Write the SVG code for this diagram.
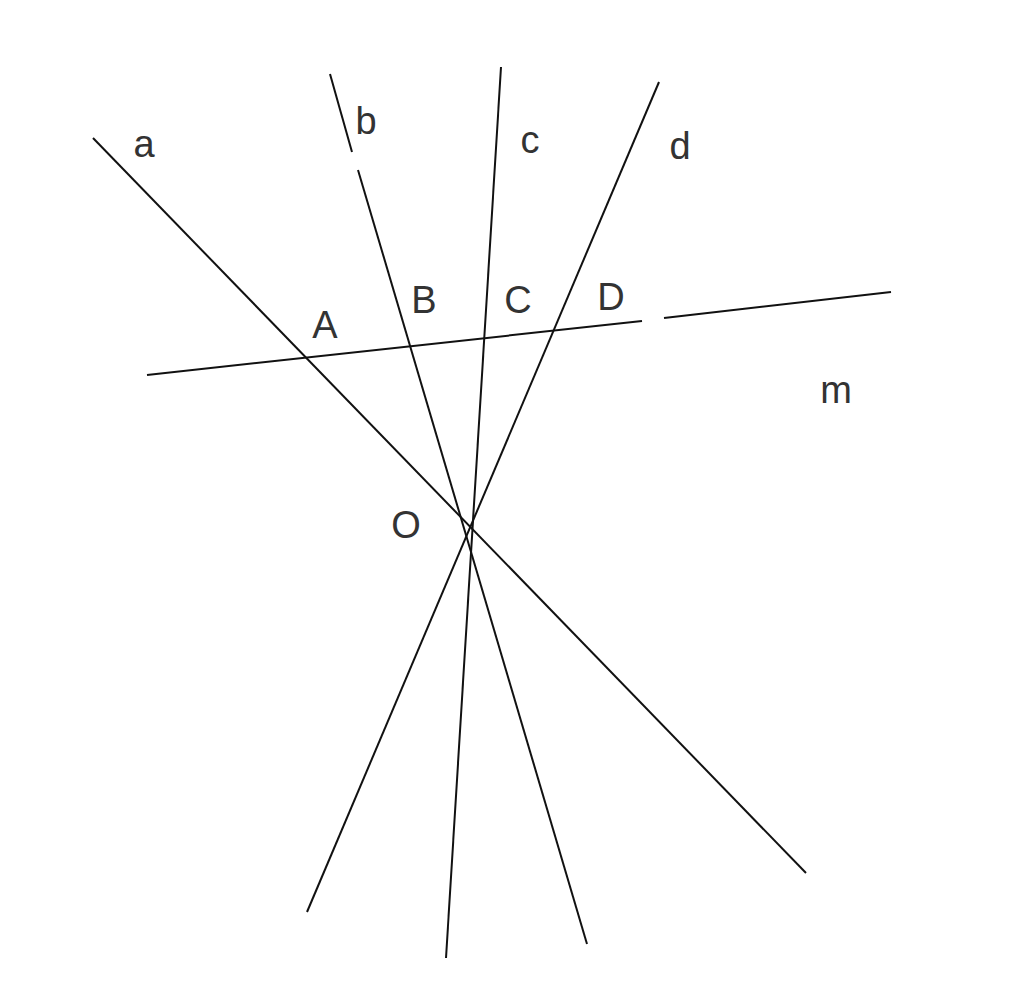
<svg xmlns="http://www.w3.org/2000/svg" width="1024" height="1003" viewBox="0 0 1024 1003">
<style>
.l{stroke:#111;stroke-width:2;fill:none}
text{font-family:"Liberation Sans",Arial,sans-serif;font-size:38px;fill:#333;text-anchor:middle}
</style>
<rect width="1024" height="1003" fill="#fff"/>
<g id="lines">
<line class="l" x1="93" y1="138" x2="806" y2="873"/>
<line class="l" x1="330" y1="74" x2="352" y2="152"/>
<line class="l" x1="358" y1="170" x2="587" y2="944"/>
<line class="l" x1="501" y1="67" x2="446" y2="958"/>
<line class="l" x1="659" y1="82" x2="307" y2="912"/>
<line class="l" x1="147" y1="375" x2="642" y2="321"/>
<line class="l" x1="664" y1="318" x2="891" y2="292"/>
</g>
<g id="labels">
<text x="144" y="157">a</text>
<text x="366" y="134">b</text>
<text x="530" y="153">c</text>
<text x="680" y="159">d</text>
<text x="325" y="338">A</text>
<text x="424" y="313">B</text>
<text x="518" y="313">C</text>
<text x="611" y="310">D</text>
<text x="836" y="403">m</text>
<text x="406" y="538">O</text>
</g>
</svg>
